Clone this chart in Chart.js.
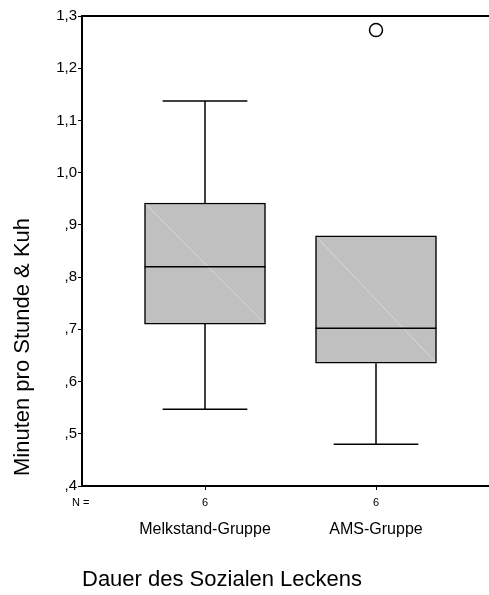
<!DOCTYPE html>
<html>
<head>
<meta charset="utf-8">
<script src="https://cdn.jsdelivr.net/npm/chart.js@4/dist/chart.umd.min.js"></script>
<style>
    html, body { margin: 0; padding: 0; background: #fff; }
    #wrap { width: 489px; height: 595px; }
</style>
</head>
<body>
<div id="wrap"><canvas id="chart" width="489" height="595"></canvas></div>
<script>
// Box plot values
const groups = ['Melkstand-Gruppe', 'AMS-Gruppe'];
const counts = [6, 6];
const whiskerLow = [0.547, 0.480];
const q1 = [0.710, 0.635];
const median = [0.820, 0.702];
const q3 = [0.942, 0.879];
const whiskerHigh = [1.137, 0.879];
const outliers = [[], [1.273]];
const yTicks = [0.4, 0.5, 0.6, 0.7, 0.8, 0.9, 1.0, 1.1, 1.2, 1.3];

const FONT = '"Liberation Sans", Arial, Helvetica, sans-serif';

// SPSS style: ",4" instead of "0,4"
const fmt = v => {
    const s = v.toFixed(1).replace('.', ',');
    return s.startsWith('0') ? s.slice(1) : s;
};

const line = (ctx, x1, y1, x2, y2) => {
    ctx.beginPath();
    ctx.moveTo(x1, y1);
    ctx.lineTo(x2, y2);
    ctx.stroke();
};

// Whiskers, medians, top frame and the extra labels
const boxParts = {
    id: 'boxParts',
    afterDatasetsDraw(chart) {
        const { ctx, chartArea } = chart;
        const xs = chart.scales.x, ys = chart.scales.y;
        const bars = chart.getDatasetMeta(0).data;
        ctx.save();
        groups.forEach((g, i) => {
            const cx = xs.getPixelForValue(i + 1);
            const half = bars[i].width / 2;
            const cap = bars[i].width * 0.35;
            const top = ys.getPixelForValue(q3[i]);
            const bot = ys.getPixelForValue(q1[i]);

            // faint diagonal seen in the boxes
            ctx.strokeStyle = '#dadada';
            ctx.lineWidth = 1;
            line(ctx, cx - half + 1.5, top + 1.5, cx + half - 1.5, bot - 1.5);

            ctx.strokeStyle = '#000';
            ctx.lineWidth = 1.5;
            const med = ys.getPixelForValue(median[i]);
            line(ctx, cx - half, med, cx + half, med);

            const hi = ys.getPixelForValue(whiskerHigh[i]);
            const lo = ys.getPixelForValue(whiskerLow[i]);
            if (whiskerHigh[i] > q3[i]) {
                line(ctx, cx, top, cx, hi);
                line(ctx, cx - cap, hi, cx + cap, hi);
            }
            if (whiskerLow[i] < q1[i]) {
                line(ctx, cx, bot, cx, lo);
                line(ctx, cx - cap, lo, cx + cap, lo);
            }
        });

        // top frame line
        ctx.lineWidth = 2;
        line(ctx, chartArea.left - 1, chartArea.top, chart.width, chartArea.top);
        ctx.restore();
    },
    afterDraw(chart) {
        const { ctx, chartArea } = chart;
        const xs = chart.scales.x;
        ctx.save();
        ctx.fillStyle = '#000';

        // N row
        ctx.font = '11px ' + FONT;
        ctx.textBaseline = 'middle';
        ctx.textAlign = 'left';
        ctx.fillText('N =', 72, chartArea.bottom + 17);
        ctx.textAlign = 'center';
        counts.forEach((n, i) => {
            ctx.fillText(String(n), xs.getPixelForValue(i + 1), chartArea.bottom + 17);
        });

        // y axis title
        ctx.font = '22px ' + FONT;
        ctx.translate(23, 347);
        ctx.rotate(-Math.PI / 2);
        ctx.fillText('Minuten pro Stunde & Kuh', 0, 0);
        ctx.restore();
    }
};

new Chart(document.getElementById('chart'), {
    type: 'bar',
    data: {
        datasets: [{
            data: groups.map((g, i) => ({ x: i + 1, y: [q1[i], q3[i]] })),
            backgroundColor: '#c0c0c0',
            borderColor: '#000',
            borderWidth: 1.5,
            borderSkipped: false,
            barThickness: 121
        }, {
            type: 'scatter',
            data: outliers.flatMap((vals, i) => vals.map(v => ({ x: i + 1, y: v }))),
            pointStyle: 'circle',
            pointRadius: 6.5,
            backgroundColor: '#fff',
            borderColor: '#000',
            borderWidth: 1.5
        }]
    },
    options: {
        responsive: false,
        animation: false,
        layout: { autoPadding: false, padding: { top: 16, left: 0, right: 0, bottom: 0 } },
        plugins: {
            legend: { display: false },
            tooltip: { enabled: false }
        },
        scales: {
            x: {
                type: 'linear',
                min: 0.2807,
                max: 2.6608,
                offset: false,
                afterBuildTicks: s => { s.ticks = groups.map((g, i) => ({ value: i + 1 })); },
                afterFit: s => { s.height = 109; s.paddingLeft = 0; s.paddingRight = 0; },
                grid: { drawOnChartArea: false, offset: false, tickLength: 4, color: '#000', lineWidth: 1 },
                border: { display: true, color: '#000', width: 2 },
                ticks: {
                    autoSkip: false,
                    maxRotation: 0,
                    padding: 30,
                    color: '#000',
                    font: { family: FONT, size: 16 },
                    callback: (v, i) => groups[i]
                },
                title: {
                    display: true,
                    text: 'Dauer des Sozialen Leckens',
                    align: 'start',
                    color: '#000',
                    font: { family: FONT, size: 22 },
                    padding: { top: 0, bottom: 2 }
                }
            },
            y: {
                min: 0.4,
                max: 1.3,
                afterBuildTicks: s => { s.ticks = yTicks.map(v => ({ value: v })); },
                afterFit: s => { s.width = 82; },
                grid: { drawOnChartArea: false, tickLength: 4, color: '#000', lineWidth: 1 },
                border: { display: true, color: '#000', width: 2 },
                ticks: {
                    padding: 1,
                    color: '#000',
                    font: { family: FONT, size: 15 },
                    callback: v => fmt(v)
                }
            }
        }
    },
    plugins: [boxParts]
});
</script>
</body>
</html>
